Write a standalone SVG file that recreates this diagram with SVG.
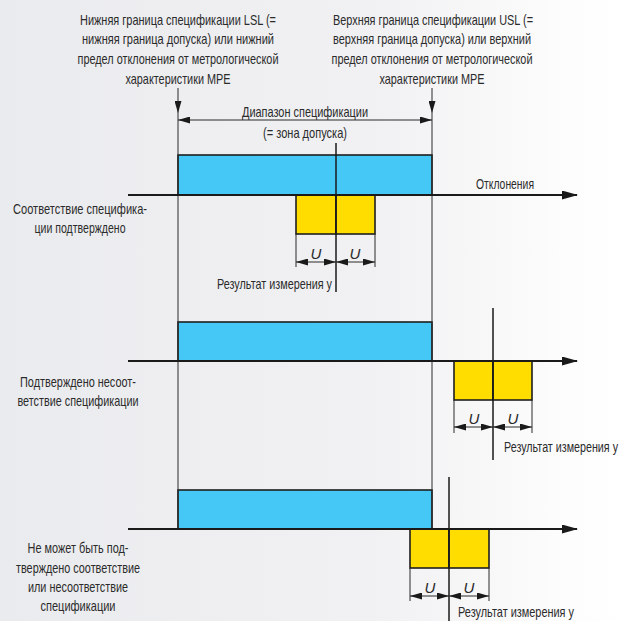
<svg xmlns="http://www.w3.org/2000/svg" width="626" height="621" viewBox="0 0 626 621">
<defs>
<linearGradient id="bg" x1="0" y1="0" x2="1" y2="0">
<stop offset="0" stop-color="#eaebee"/>
<stop offset="0.6" stop-color="#f1f1f3"/>
<stop offset="0.92" stop-color="#fdfdfd"/>
<stop offset="1" stop-color="#ffffff"/>
</linearGradient>
<marker id="big" markerUnits="userSpaceOnUse" markerWidth="16" markerHeight="9" refX="15" refY="4.5" orient="auto"><path d="M0,0 L16,4.5 L0,9 z" fill="#1a1a1a"/></marker>
<marker id="sm" markerUnits="userSpaceOnUse" markerWidth="12" markerHeight="7" refX="12" refY="3.5" orient="auto-start-reverse"><path d="M0,0 L12,3.5 L0,7 z" fill="#1a1a1a"/></marker>
<style>
text{font-family:"Liberation Sans",Arial,sans-serif;font-size:14.5px;fill:#2b2b2b}
.m{text-anchor:middle}
.u{font-style:italic;font-size:15px;text-anchor:middle}
.blue{fill:#45c8f5;stroke:#1f1f1f;stroke-width:1.6}
.yel{fill:#ffdd00;stroke:#1f1f1f;stroke-width:1.6}
.thin{stroke:#2b2b2b;stroke-width:1;fill:none}
.axis{stroke:#1a1a1a;stroke-width:1.8;fill:none}
.ctr{stroke:#1a1a1a;stroke-width:1.5;fill:none}
</style>
</defs>
<rect width="626" height="621" fill="url(#bg)"/>

<g id="lsl-label">
<text x="178" y="25" class="m" textLength="196" lengthAdjust="spacingAndGlyphs">Нижняя граница спецификации LSL (=</text>
<text x="178" y="44" class="m" textLength="192" lengthAdjust="spacingAndGlyphs">нижняя граница допуска) или нижний</text>
<text x="178" y="64" class="m" textLength="201" lengthAdjust="spacingAndGlyphs">предел отклонения от метрологической</text>
<text x="178" y="84" class="m" textLength="105" lengthAdjust="spacingAndGlyphs">характеристики MPE</text>
</g>
<g id="usl-label">
<text x="433" y="25" class="m" textLength="200" lengthAdjust="spacingAndGlyphs">Верхняя граница спецификации USL (=</text>
<text x="432" y="44" class="m" textLength="198" lengthAdjust="spacingAndGlyphs">верхняя граница допуска) или верхний</text>
<text x="432" y="64" class="m" textLength="201" lengthAdjust="spacingAndGlyphs">предел отклонения от метрологической</text>
<text x="432" y="84" class="m" textLength="105" lengthAdjust="spacingAndGlyphs">характеристики MPE</text>
</g>
<g id="range-label">
<text x="305" y="117" class="m" textLength="126" lengthAdjust="spacingAndGlyphs">Диапазон спецификации</text>
<text x="305" y="138" class="m" textLength="84" lengthAdjust="spacingAndGlyphs">(= зона допуска)</text>
</g>

<g id="row1">
<rect class="blue" x="178" y="155" width="254" height="40"/>
<rect class="yel" x="296" y="195" width="40" height="39"/>
<rect class="yel" x="336" y="195" width="39" height="39"/>
<text x="476" y="189" textLength="58" lengthAdjust="spacingAndGlyphs">Отклонения</text>
<text x="80" y="214" class="m" textLength="134" lengthAdjust="spacingAndGlyphs">Соответствие специфика-</text>
<text x="80" y="233" class="m" textLength="91" lengthAdjust="spacingAndGlyphs">ции подтверждено</text>
<text x="316" y="259" class="u">U</text>
<text x="355" y="259" class="u">U</text>
<text x="217" y="289" textLength="115" lengthAdjust="spacingAndGlyphs">Результат измерения y</text>
</g>

<g id="row2">
<rect class="blue" x="178" y="322" width="254" height="39"/>
<rect class="yel" x="454" y="361" width="39" height="39"/>
<rect class="yel" x="493" y="361" width="39" height="39"/>
<text x="78" y="387" class="m" textLength="116" lengthAdjust="spacingAndGlyphs">Подтверждено несоот-</text>
<text x="78" y="406" class="m" textLength="121" lengthAdjust="spacingAndGlyphs">ветствие спецификации</text>
<text x="474" y="424" class="u">U</text>
<text x="513" y="424" class="u">U</text>
<text transform="translate(504,452) scale(0.76,1)" x="0" y="0" textLength="150" lengthAdjust="spacingAndGlyphs">Результат измерения y</text>
</g>

<g id="row3">
<rect class="blue" x="178" y="490" width="254" height="39"/>
<rect class="yel" x="410" y="529" width="39" height="39"/>
<rect class="yel" x="449" y="529" width="40" height="39"/>
<text x="78" y="553" class="m" textLength="101" lengthAdjust="spacingAndGlyphs">Не может быть под-</text>
<text x="78" y="573" class="m" textLength="124" lengthAdjust="spacingAndGlyphs">тверждено соответствие</text>
<text x="78" y="592" class="m" textLength="100" lengthAdjust="spacingAndGlyphs">или несоответствие</text>
<text x="78" y="611" class="m" textLength="75" lengthAdjust="spacingAndGlyphs">спецификации</text>
<text x="430" y="593" class="u">U</text>
<text x="469" y="593" class="u">U</text>
<text x="458" y="617" textLength="116" lengthAdjust="spacingAndGlyphs">Результат измерения y</text>
</g>

<g id="connectors">
<line class="thin" x1="178" y1="88" x2="178" y2="113" marker-end="url(#sm)"/>
<line class="thin" x1="178" y1="113" x2="178" y2="529"/>
<line class="thin" x1="432" y1="88" x2="432" y2="113" marker-end="url(#sm)"/>
<line class="thin" x1="432" y1="113" x2="432" y2="529"/>
<line class="thin" x1="178" y1="120" x2="432" y2="120" marker-start="url(#sm)" marker-end="url(#sm)"/>

<line class="axis" x1="128" y1="195" x2="577" y2="195" marker-end="url(#big)"/>
<line class="axis" x1="128" y1="361" x2="577" y2="361" marker-end="url(#big)"/>
<line class="axis" x1="128" y1="529" x2="577" y2="529" marker-end="url(#big)"/>

<line class="ctr" x1="336" y1="143" x2="336" y2="292"/>
<line class="ctr" x1="493" y1="308" x2="493" y2="460"/>
<line class="ctr" x1="449" y1="477" x2="449" y2="621"/>

<line class="thin" x1="296" y1="234" x2="296" y2="267"/>
<line class="thin" x1="375" y1="234" x2="375" y2="267"/>
<line class="thin" x1="296" y1="262" x2="336" y2="262" marker-start="url(#sm)" marker-end="url(#sm)"/>
<line class="thin" x1="336" y1="262" x2="375" y2="262" marker-start="url(#sm)" marker-end="url(#sm)"/>

<line class="thin" x1="454" y1="400" x2="454" y2="433"/>
<line class="thin" x1="532" y1="400" x2="532" y2="433"/>
<line class="thin" x1="454" y1="427" x2="493" y2="427" marker-start="url(#sm)" marker-end="url(#sm)"/>
<line class="thin" x1="493" y1="427" x2="532" y2="427" marker-start="url(#sm)" marker-end="url(#sm)"/>

<line class="thin" x1="410" y1="568" x2="410" y2="601"/>
<line class="thin" x1="489" y1="568" x2="489" y2="601"/>
<line class="thin" x1="410" y1="596" x2="449" y2="596" marker-start="url(#sm)" marker-end="url(#sm)"/>
<line class="thin" x1="449" y1="596" x2="489" y2="596" marker-start="url(#sm)" marker-end="url(#sm)"/>
</g>
</svg>
